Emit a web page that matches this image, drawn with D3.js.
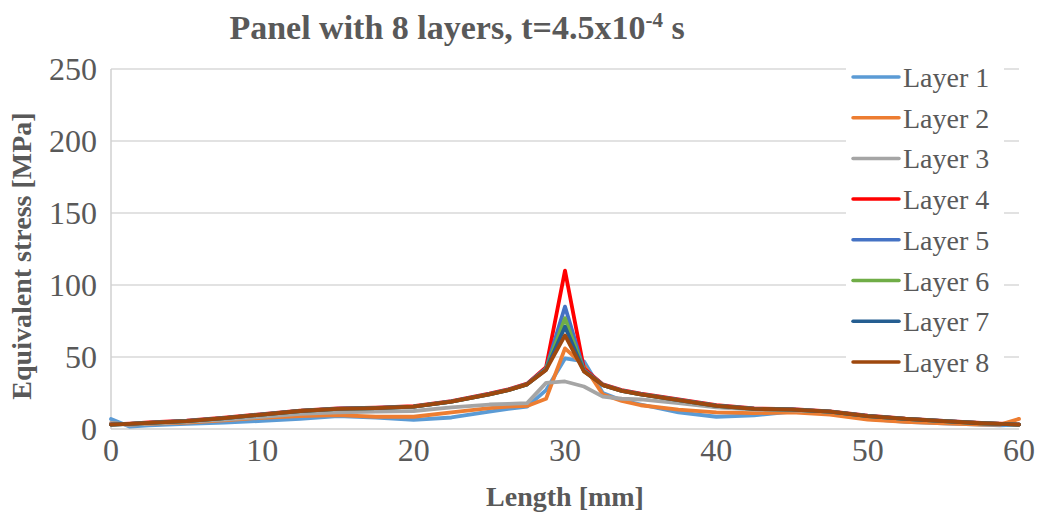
<!DOCTYPE html>
<html>
<head>
<meta charset="utf-8">
<script src="https://cdn.jsdelivr.net/npm/d3@7"></script>
<style>
  body { margin: 0; background: #fff; }
  text { font-family: "Liberation Serif", "Times New Roman", serif; fill: #595959; }
</style>
</head>
<body>
<svg id="chart" width="1037" height="518"></svg>
<script>
// positions along the panel [mm]
const lengths = [0, 1.25, 2.5, 5, 7.5, 10, 12.5, 15, 17.5, 20, 22.5, 25, 26.25, 27.5, 28.75, 30,
  31.25, 32.5, 33.75, 35, 37.5, 40, 42.5, 45, 47.5, 50, 52.5, 55, 57.5, 58.75, 60];

// equivalent stress [MPa] per layer
const layer1 = [7, 1.6, 2.5, 3.5, 4.5, 5.6, 7, 9, 8, 6.3, 8, 12, 14, 15.5, 27, 49,
  47, 25, 20, 17, 11.5, 8.5, 9.5, 12, 11.5, 7, 5, 4, 3, 2.5, 3];
const layer2 = [4, 3, 3.5, 4.5, 6, 7.8, 9, 9.7, 8.5, 8.5, 11.5, 14.5, 15.5, 16, 21, 56,
  44, 24, 19.5, 16.5, 13.5, 11.5, 11, 11.5, 10, 6.5, 5, 4, 3, 3, 7];
const layer3 = [4, 3, 3.8, 5, 6.5, 8.5, 10.5, 11.5, 12, 12.5, 15, 17, 17.5, 18, 32, 33,
  29.5, 22.5, 21, 20.5, 18, 15, 13.5, 13, 12, 9, 7, 5.5, 4, 3.5, 3];
const layer4 = [3.2, 3.8, 4.5, 5.8, 7.8, 10.3, 12.8, 14.3, 14.8, 15.8, 19.3, 24.5, 27.5, 31.5, 43, 110,
  42, 31, 27, 24.5, 20.5, 16.5, 14.3, 13.8, 12.3, 9.3, 7.2, 5.7, 4.2, 3.7, 3.2];
const layer5 = [3, 3.6, 4.3, 5.6, 7.6, 10.1, 12.6, 14.1, 14.6, 15.6, 19.1, 24.2, 27.2, 31.2, 42, 85,
  41, 30.7, 26.7, 24.2, 20.2, 16.2, 14.1, 13.6, 12.1, 9.1, 7.1, 5.6, 4.1, 3.6, 3];
const layer6 = [3, 3.5, 4.2, 5.5, 7.5, 10, 12.5, 14, 14.5, 15.5, 19, 24, 27, 31, 41.5, 77,
  40.5, 30.5, 26.5, 24, 20, 16, 14, 13.5, 12, 9, 7, 5.5, 4, 3.5, 3];
const layer7 = [3, 3.5, 4.2, 5.5, 7.5, 10, 12.5, 14, 14.5, 15.5, 19, 24, 27, 31, 41.2, 71,
  40.2, 30.5, 26.5, 24, 20, 16, 14, 13.5, 12, 9, 7, 5.5, 4, 3.5, 3];
const layer8 = [3, 3.5, 4.2, 5.5, 7.5, 10, 12.5, 14, 14.5, 15.5, 19, 24, 27, 31, 41, 65,
  40, 30.5, 26.5, 24, 20, 16, 14, 13.5, 12, 9, 7, 5.5, 4, 3.5, 3];

const layerNames = ['Layer 1', 'Layer 2', 'Layer 3', 'Layer 4', 'Layer 5', 'Layer 6', 'Layer 7', 'Layer 8'];
const layerValues = [layer1, layer2, layer3, layer4, layer5, layer6, layer7, layer8];
const layerColors = ['#5B9BD5', '#ED7D31', '#A5A5A5', '#FF0000', '#4472C4', '#70AD47', '#255E91', '#9E480E'];

const xTicks = [0, 10, 20, 30, 40, 50, 60];
const yTicks = [0, 50, 100, 150, 200, 250];

const svg = d3.select('#chart');

const x = d3.scaleLinear().domain([0, 60]).range([111, 1019]);
const y = d3.scaleLinear().domain([0, 250]).range([429, 69]);

// gridlines
svg.append('g')
    .selectAll('line')
    .data(yTicks.slice(1))
    .join('line')
    .attr('x1', x(0))
    .attr('x2', x(60))
    .attr('y1', d => y(d))
    .attr('y2', d => y(d))
    .attr('stroke', '#d9d9d9')
    .attr('stroke-width', 1.3);

// axis lines
svg.append('line')
    .attr('x1', x(0)).attr('x2', x(60))
    .attr('y1', y(0)).attr('y2', y(0))
    .attr('stroke', '#d0d0d0').attr('stroke-width', 1.5);
svg.append('line')
    .attr('x1', x(0)).attr('x2', x(0))
    .attr('y1', y(0)).attr('y2', y(250))
    .attr('stroke', '#d0d0d0').attr('stroke-width', 1.5);

// tick labels
svg.append('g')
    .selectAll('text')
    .data(yTicks)
    .join('text')
    .attr('x', 97)
    .attr('y', d => y(d) + 11)
    .attr('text-anchor', 'end')
    .style('font-size', '32px')
    .text(d => d);

svg.append('g')
    .selectAll('text')
    .data(xTicks)
    .join('text')
    .attr('x', d => x(d))
    .attr('y', 461)
    .attr('text-anchor', 'middle')
    .style('font-size', '32px')
    .text(d => d);

// series lines
const line = d3.line()
    .x((d, i) => x(lengths[i]))
    .y(d => y(d));

svg.append('g')
    .selectAll('path')
    .data(layerValues)
    .join('path')
    .attr('d', d => line(d))
    .attr('fill', 'none')
    .attr('stroke', (d, i) => layerColors[i])
    .attr('stroke-width', 3.8)
    .attr('stroke-linejoin', 'round')
    .attr('stroke-linecap', 'round');

// legend (white box covers the gridlines)
svg.append('rect')
    .attr('x', 846).attr('y', 58)
    .attr('width', 158).attr('height', 322)
    .attr('fill', '#fff');

const legend = svg.append('g')
    .selectAll('g')
    .data(layerNames)
    .join('g')
    .attr('transform', (d, i) => `translate(853, ${77 + i * 40.7})`);
legend.append('line')
    .attr('x1', 0).attr('x2', 46)
    .attr('stroke', (d, i) => layerColors[i])
    .attr('stroke-width', 3.5)
    .attr('stroke-linecap', 'round');
legend.append('text')
    .attr('x', 50)
    .attr('y', 10)
    .style('font-size', '28px')
    .text(d => d);

// titles
const title = svg.append('text')
    .attr('x', 457)
    .attr('y', 39)
    .attr('text-anchor', 'middle')
    .style('font-size', '34px')
    .style('font-weight', 'bold');
title.append('tspan').text('Panel with 8 layers, t=4.5x10');
title.append('tspan').attr('dy', -12).style('font-size', '21px').text('-4');
title.append('tspan').attr('dy', 12).text(' s');

svg.append('text')
    .attr('x', 565)
    .attr('y', 506)
    .attr('text-anchor', 'middle')
    .style('font-size', '28px')
    .style('font-weight', 'bold')
    .text('Length [mm]');

svg.append('text')
    .attr('transform', 'translate(31, 256) rotate(-90)')
    .attr('text-anchor', 'middle')
    .style('font-size', '28px')
    .style('font-weight', 'bold')
    .text('Equivalent stress [MPa]');
</script>
</body>
</html>
